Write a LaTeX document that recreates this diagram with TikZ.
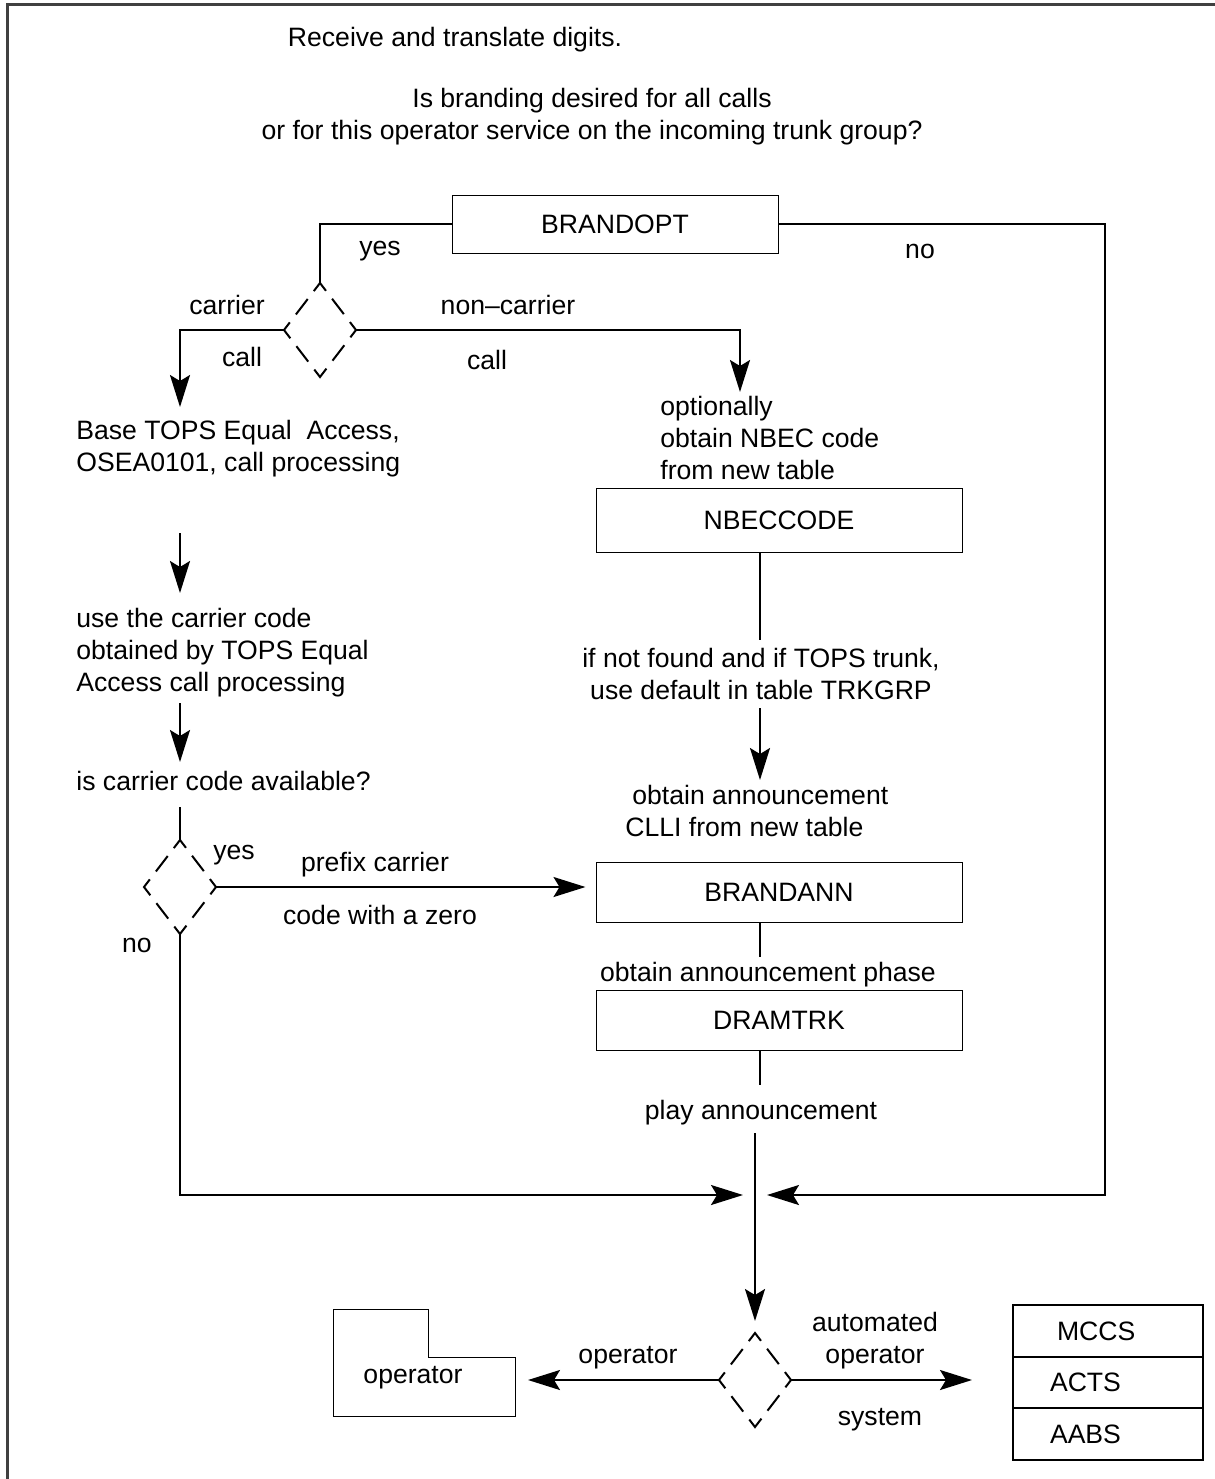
\documentclass[tikz,border=0pt]{standalone}
\usepackage{fontspec}
\setmainfont{Liberation Sans}
\usetikzlibrary{arrows.meta,shapes.geometric}

\tikzset{
  box/.style={draw,line width=.5pt,inner sep=0pt},
  dia/.style={diamond,draw,line width=1pt,inner sep=0pt,outer sep=0pt,
    minimum width=36pt,minimum height=47pt,
    dash pattern=on 10pt off 5pt on 9.7pt off 5pt,dash phase=5pt},
  conn/.style={line width=1pt},
  arr/.style={line width=1pt,-{Stealth[length=16pt,width=10pt,inset=3pt]}},
  cell/.style={draw,line width=.8pt,minimum width=95pt,minimum height=25.8pt,
    text width=58pt,align=left,inner sep=0pt}
}

\begin{document}
\begin{tikzpicture}[x=.5pt,y=-.5pt,
    every node/.style={font=\fontsize{13.3}{16}\selectfont,inner sep=0pt}]
  \useasboundingbox (0,0) rectangle (1215,1479);
  % frame
  \draw[line width=1.5pt,black!75] (7,1479) -- (7,4) -- (1215,4);

  % question
  \node (digits) at (455,40) {Receive and translate digits.};
  \node[align=center] (ask) at (592,117) {Is branding desired for all calls\\or for this operator service on the incoming trunk group?};
  \node[box,minimum width=163pt,minimum height=29pt] (brandopt) at (615,224) {BRANDOPT};
  \node (yes1) at (380,251) {yes};
  \node (no1) at (920,251) {no};

  % carrier / non-carrier
  \node[dia] (d1) at (320,330) {};
  \node (carr) at (227,305) {carrier};
  \node (call1) at (242,357) {call};
  \node (noncarr) at (508,305) {non--carrier};
  \node (call2) at (487,360) {call};

  % left column
  \node[align=left,anchor=west] (base) at (76,449) {Base TOPS Equal\ \ Access,\\OSEA0101, call processing};
  \node[align=left,anchor=west] (usecc) at (76,653) {use the carrier code\\obtained by TOPS Equal\\Access call processing};
  \node[anchor=west] (avail) at (76,781) {is carrier code available?};
  \node[dia] (d2) at (180,887) {};
  \node (yes2) at (234,855) {yes};
  \node (no2) at (137,945) {no};
  \node (prefix) at (375,865) {prefix carrier};
  \node (zero) at (380,915) {code with a zero};

  % right column
  \node[align=left,anchor=west] (opt) at (660,438) {optionally\\obtain NBEC code\\from new table};
  \node[box,minimum width=183pt,minimum height=32pt] (nbec) at (779,520) {NBECCODE};
  \node[align=center] (notfound) at (761,674) {if not found and if TOPS trunk,\\use default in table TRKGRP};
  \node[align=left,anchor=west] (clli) at (625,811) {\hspace*{3.5pt}obtain announcement\\CLLI from new table};
  \node[box,minimum width=183pt,minimum height=30pt] (brandann) at (779,892) {BRANDANN};
  \node (phase) at (768,975) {obtain announcement phase};
  \node[box,minimum width=183pt,minimum height=30pt] (dramtrk) at (779,1020) {DRAMTRK};
  \node (play) at (761,1113) {play announcement};

  % operator / automated system
  \node[dia] (d3) at (755,1380) {};
  \node (oplbl) at (628,1358) {operator};
  \node (op) at (413,1378) {operator};
  \draw[line width=.5pt] (333,1309) -- (428,1309) -- (428,1357) -- (515,1357)
    -- (515,1416) -- (333,1416) -- cycle;
  \node[align=center] (auto) at (875,1341) {automated\\operator};
  \node (sys) at (880,1420) {system};
  \node[cell] (mccs) at (1108,1331) {\hspace*{3.5pt}MCCS};
  \node[cell] (acts) at (1108,1382.5) {ACTS};
  \node[cell] (aabs) at (1108,1434) {AABS};

  % connectors
  \coordinate (c1) at (180,407);
  \coordinate (c2) at (740,392);
  \coordinate (c3) at (180,533);
  \coordinate (c4) at (180,593);
  \coordinate (c5) at (180,703);
  \coordinate (c6) at (180,762);
  \coordinate (c7) at (180,807);
  \coordinate (s1) at (760,640);
  \coordinate (s2) at (760,708);
  \coordinate (s3) at (760,780);
  \coordinate (s4) at (760,957);
  \coordinate (s5) at (760,1085);
  \coordinate (s6) at (755,1133);
  \coordinate (m1) at (743,1195);
  \coordinate (m2) at (767,1195);
  \coordinate (rc) at (1105,1195);
  \coordinate (opr) at (528,1380);
  \coordinate (sysr) at (972,1380);

  \draw[conn] (brandopt.west) -| (d1.north);
  \draw[arr] (d1.west) -| (c1);
  \draw[arr] (d1.east) -| (c2);
  \draw[arr] (c3) -- (c4);
  \draw[arr] (c5) -- (c6);
  \draw[conn] (c7) -- (d2.north);
  \draw[arr,shorten >=5pt] (d2.east) -- (d2.east -| brandann.west);
  \draw[arr] (d2.south) |- (m1);
  \draw[arr] (brandopt.east) -| (rc) -- (m2);
  \draw[conn] (nbec.south -| s1) -- (s1);
  \draw[arr] (s2) -- (s3);
  \draw[conn] (brandann.south -| s4) -- (s4);
  \draw[conn] (dramtrk.south -| s5) -- (s5);
  \draw[arr,shorten >=6pt] (s6) -- (d3.north);
  \draw[arr] (d3.west) -- (opr);
  \draw[arr] (d3.east) -- (sysr);
\end{tikzpicture}
\end{document}
